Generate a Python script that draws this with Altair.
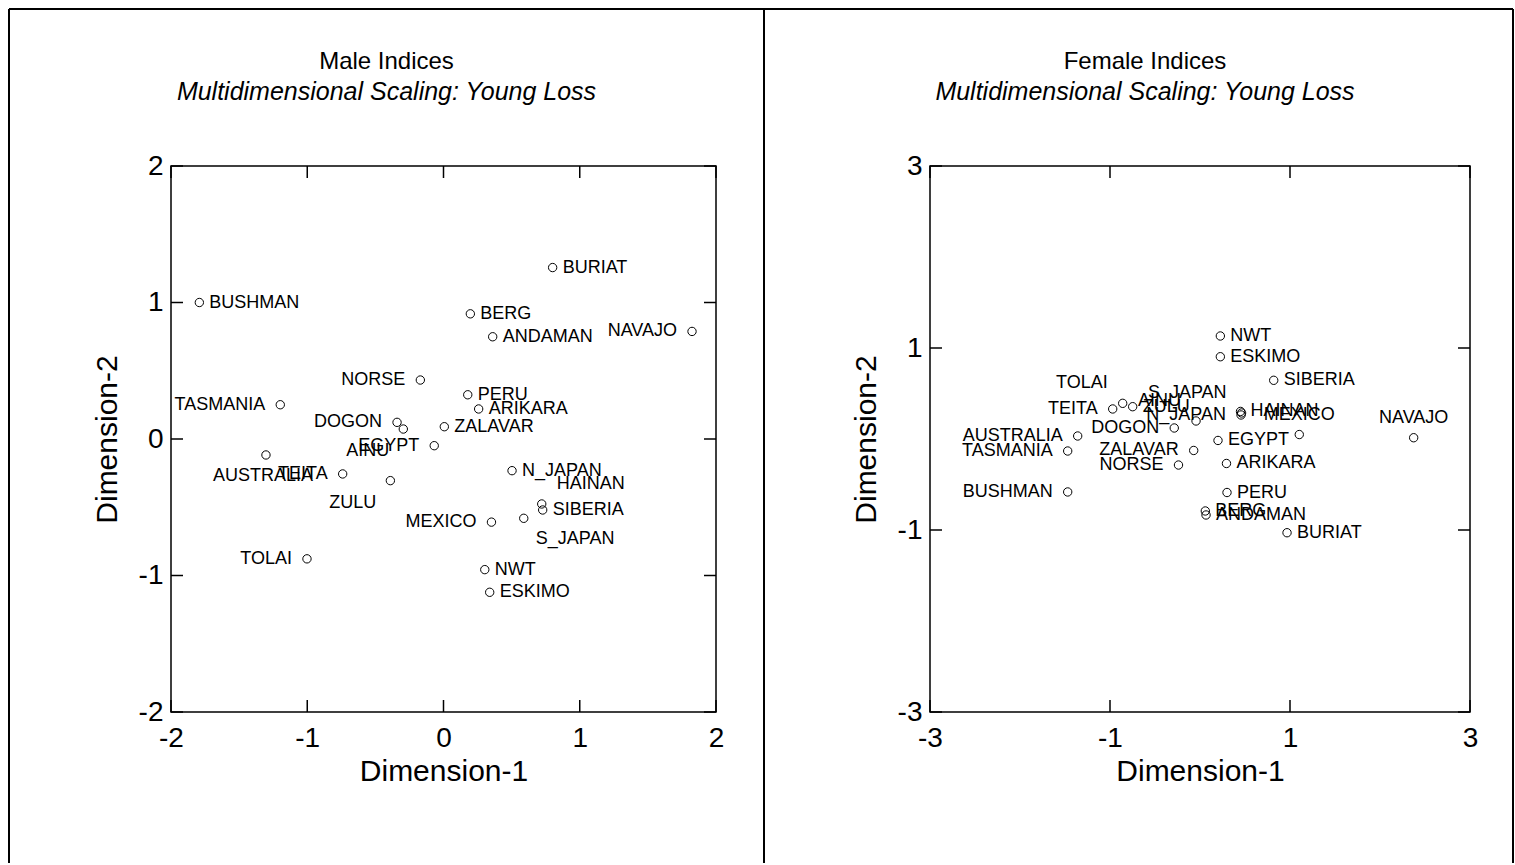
import altair as alt
import pandas as pd

FONT = "Liberation Sans"

# Populations (same order in both panels)
populations = [
    "BUSHMAN", "BURIAT", "BERG", "ANDAMAN", "NAVAJO", "NORSE", "PERU", "ARIKARA",
    "TASMANIA", "DOGON", "AINU", "ZALAVAR", "EGYPT", "AUSTRALIA", "TEITA", "ZULU",
    "MEXICO", "TOLAI", "NWT", "ESKIMO", "N_JAPAN", "HAINAN", "SIBERIA", "S_JAPAN",
]

# Male indices: MDS coordinates
male_dim1 = [-1.792, 0.801, 0.197, 0.361, 1.824, -0.170, 0.178, 0.258,
             -1.198, -0.341, -0.295, 0.006, -0.068, -1.303, -0.740, -0.390,
             0.352, -1.002, 0.303, 0.339, 0.503, 0.721, 0.728, 0.589]
male_dim2 = [1.000, 1.256, 0.917, 0.749, 0.788, 0.432, 0.324, 0.220,
             0.251, 0.122, 0.073, 0.090, -0.049, -0.117, -0.256, -0.305,
             -0.609, -0.878, -0.957, -1.123, -0.232, -0.476, -0.520, -0.581]

# Female indices: MDS coordinates
female_dim1 = [-1.470, 0.967, 0.059, 0.067, 2.374, -0.239, 0.300, 0.294,
               -1.470, -0.286, -0.044, -0.070, 0.200, -1.359, -0.970, -0.748,
               1.103, -0.859, 0.226, 0.226, 0.456, 0.450, 0.819, 0.462]
female_dim2 = [-0.582, -1.030, -0.791, -0.835, 0.014, -0.286, -0.588, -0.269,
               -0.132, 0.121, 0.198, -0.126, -0.016, 0.033, 0.330, 0.355,
               0.049, 0.392, 1.132, 0.904, 0.264, 0.303, 0.645, 0.286]

# Where each label sits relative to its point
male_label_side = ["R", "R", "R", "R", "L", "L", "R", "R",
                   "L", "L", "BL", "R", "L", "B", "L", "BL",
                   "L", "L", "R", "R", "R", "AR", "R", "BR"]
female_label_side = ["L", "R", "R", "R", "A", "L", "R", "R",
                     "L", "L", "AL", "L", "R", "L", "L", "R",
                     "A", "AL", "R", "R", "L", "R", "R", "AL"]

# align, dx, dy for each label side
SIDES = {
    "R": ("left", 10, 0),
    "L": ("right", -15, 0),
    "A": ("center", 0, -20),
    "B": ("center", -3, 21),
    "AL": ("right", -15, -20),
    "AR": ("left", 15, -20),
    "BL": ("right", -14, 22),
    "BR": ("left", 12, 21),
}

male_ticks = [-2, -1, 0, 1, 2]
female_ticks = [-3, -1, 1, 3]

PLOT_H = 546
TICK_LEN = 12
ORIGIN_Y = 165


def axis(title, ticks, label_pad, title_pad):
    return alt.Axis(
        values=ticks, title=title, grid=False, ticks=False, domain=False,
        labelFont=FONT, labelFontSize=28, labelColor="black",
        labelPadding=label_pad, labelFlush=False, labelOverlap=False,
        labelAngle=0, labelExpr="toString(datum.value)",
        titleFont=FONT, titleFontSize=30, titleFontWeight="normal",
        titleColor="black", titlePadding=title_pad,
    )


def panel(names, d1, d2, sides, lim, ticks, width, title, title_dx,
          border_left, border_right, origin_x):
    df = pd.DataFrame({"population": names, "dim1": d1, "dim2": d2, "side": sides})
    xs = alt.Scale(domain=[-lim, lim], nice=False, zero=False)
    ys = alt.Scale(domain=[-lim, lim], nice=False, zero=False)
    xa = axis("Dimension-1", ticks, 12, 4)
    ya = axis("Dimension-2", ticks, 8, 16)
    base = alt.Chart(df)

    def X(field):
        return alt.X(field, scale=xs, axis=xa)

    def Y(field):
        return alt.Y(field, scale=ys, axis=ya)

    points = base.mark_point(
        shape="circle", filled=False, color="black", size=70,
        strokeWidth=1, opacity=1,
    ).encode(x=X("dim1:Q"), y=Y("dim2:Q"))

    labels = []
    for code, (align, dx, dy) in SIDES.items():
        if code not in sides:
            continue
        labels.append(
            base.transform_filter(alt.datum.side == code).mark_text(
                align=align, baseline="middle", dx=dx, dy=dy,
                font=FONT, fontSize=18, color="black",
            ).encode(x=X("dim1:Q"), y=Y("dim2:Q"), text="population:N")
        )

    # inward tick marks on all four sides of the frame
    tk = alt.Chart(pd.DataFrame({"t": ticks}))
    rule = dict(color="black", strokeWidth=1.5)
    x_bottom = tk.mark_rule(**rule).encode(
        x=X("t:Q"), y=alt.value(PLOT_H), y2=alt.value(PLOT_H - TICK_LEN))
    x_top = tk.mark_rule(**rule).encode(
        x=X("t:Q"), y=alt.value(0), y2=alt.value(TICK_LEN))
    y_left = tk.mark_rule(**rule).encode(
        y=Y("t:Q"), x=alt.value(0), x2=alt.value(TICK_LEN))
    y_right = tk.mark_rule(**rule).encode(
        y=Y("t:Q"), x=alt.value(width), x2=alt.value(width - TICK_LEN))

    # panel border (top, left and right edges)
    edge = alt.Chart(pd.DataFrame({"edge": [0]}))
    frame = dict(color="black", strokeWidth=2)
    top_y = 8 - ORIGIN_Y
    bottom_y = 862 - ORIGIN_Y
    borders = [
        edge.mark_rule(**frame).encode(
            x=alt.value(border_left - origin_x), x2=alt.value(border_right - origin_x),
            y=alt.value(top_y)),
        edge.mark_rule(**frame).encode(
            x=alt.value(border_left - origin_x), y=alt.value(top_y), y2=alt.value(bottom_y)),
        edge.mark_rule(**frame).encode(
            x=alt.value(border_right - origin_x), y=alt.value(top_y), y2=alt.value(bottom_y)),
    ]

    return alt.layer(
        *borders, x_bottom, x_top, y_left, y_right, points, *labels
    ).properties(
        width=width, height=PLOT_H,
        title=alt.Title(
            text=title, subtitle="Multidimensional Scaling: Young Loss",
            font=FONT, fontSize=24, fontWeight="normal", color="black",
            subtitleFont=FONT, subtitleFontSize=25, subtitleFontStyle="italic",
            subtitleColor="black", subtitlePadding=6,
            anchor="middle", offset=-97, dx=title_dx,
        ),
    )


left = panel(populations, male_dim1, male_dim2, male_label_side, 2, male_ticks,
             545, "Male Indices", -57, 8, 763, 170)
right = panel(populations, female_dim1, female_dim2, female_label_side, 3, female_ticks,
              540, "Female Indices", -55, 763, 1512, 929)

chart = alt.hconcat(left, right, spacing=214, bounds="flush").properties(
    padding={"left": 7, "top": 7, "right": 0, "bottom": 0},
    background="white",
).configure_view(
    stroke="black", strokeWidth=1.5,
)

chart.save("out.html", embed_options={"renderer": "svg", "actions": False})
